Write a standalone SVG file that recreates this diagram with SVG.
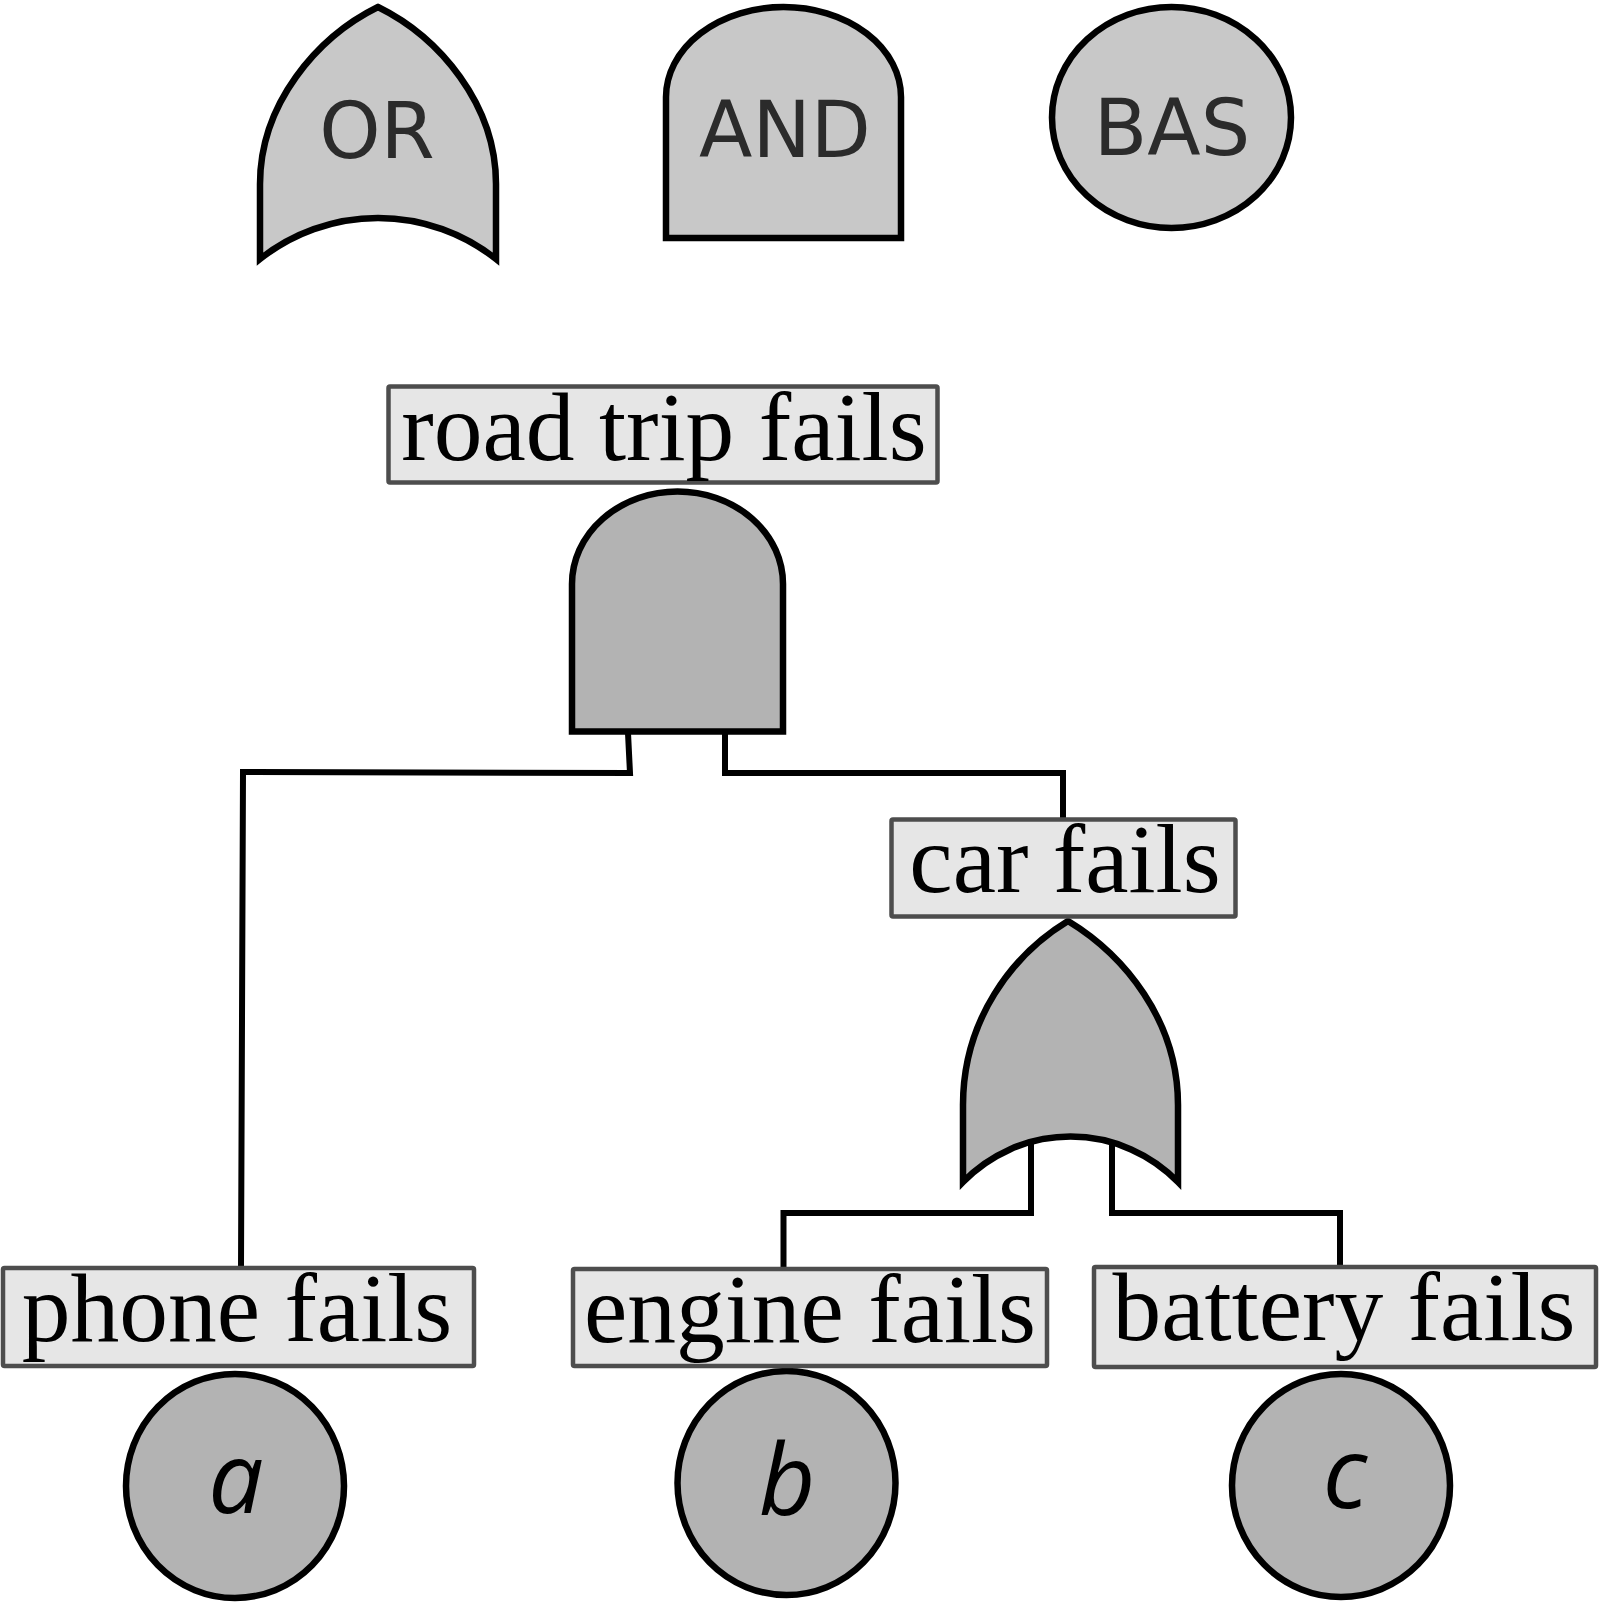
<svg xmlns="http://www.w3.org/2000/svg" width="1599" height="1604" viewBox="0 0 1599 1604">
<style>
.legend{fill:#c8c8c8;stroke:#000;stroke-width:6.5}
.gate{fill:#b3b3b3;stroke:#000;stroke-width:6.5}
.box{fill:#e6e6e6;stroke:#4d4d4d;stroke-width:4.5}
.lt{font-family:"DejaVu Sans",sans-serif;font-size:78px;fill:#2b2b2b;text-anchor:middle}
.lbl{font-family:"Liberation Serif",serif;font-size:97.5px;fill:#000;text-anchor:middle}
.var{font-family:"Open Sans",sans-serif;font-style:italic;font-size:98px;fill:#000;text-anchor:middle}
.conn{fill:none;stroke:#000;stroke-width:6}
</style>
<rect width="1599" height="1604" fill="#fff"/>
<g id="legend-or">
<path class="legend" d="M260,184 C260,104 317,37 378,7 C439,37 496,104 496,184 L496,259 A190,190 0 0 0 260,259 Z"/>
<text class="lt" x="377" y="158">OR</text>
</g>
<g id="legend-and">
<path class="legend" d="M666,238 L666,97 A117.5,90 0 0 1 901,97 L901,238 Z"/>
<text class="lt" x="785" y="157">AND</text>
</g>
<g id="legend-bas">
<ellipse class="legend" cx="1171.5" cy="117.5" rx="119.5" ry="110.5"/>
<text class="lt" x="1172" y="155">BAS</text>
</g>
<g id="connectors">
<polyline class="conn" points="628,733 630,773 243,772 241,1268"/>
<polyline class="conn" points="725,733 725,773 1063,773 1063,818"/>
<polyline class="conn" points="1031,1140 1031,1213 783.5,1213 783.5,1268"/>
<polyline class="conn" points="1112,1140 1112,1213 1340,1213 1340,1266"/>
</g>
<g id="gate-and">
<path class="gate" d="M572,731.5 L572,584 A105.5,92.5 0 0 1 783,584 L783,731.5 Z"/>
</g>
<g id="event-roadtrip">
<rect class="box" x="388.5" y="386.5" width="549" height="96" rx="1.5"/>
<text class="lbl" x="664" y="460">road trip fails</text>
</g>
<g id="gate-or">
<path class="gate" d="M963,1105 C963,1020 1012,955 1068,921 C1124,955 1178,1020 1178,1105 L1178,1182 A150,150 0 0 0 963,1182 Z"/>
</g>
<g id="event-car">
<rect class="box" x="891.5" y="819.5" width="344" height="97" rx="1.5"/>
<text class="lbl" x="1065" y="892">car fails</text>
</g>
<g id="bas-a">
<ellipse class="gate" cx="235" cy="1486" rx="109" ry="112"/>
<text class="var" x="236" y="1513">a</text>
</g>
<g id="bas-b">
<ellipse class="gate" cx="786.5" cy="1483" rx="109" ry="112"/>
<text class="var" x="787" y="1515">b</text>
</g>
<g id="bas-c">
<ellipse class="gate" cx="1341" cy="1485.5" rx="109" ry="111.5"/>
<text class="var" x="1345" y="1508">c</text>
</g>
<g id="event-phone">
<rect class="box" x="3" y="1268" width="471" height="98" rx="1.5"/>
<text class="lbl" x="237" y="1341">phone fails</text>
</g>
<g id="event-engine">
<rect class="box" x="573" y="1269" width="474" height="97" rx="1.5"/>
<text class="lbl" x="810" y="1342">engine fails</text>
</g>
<g id="event-battery">
<rect class="box" x="1094" y="1267" width="502" height="100" rx="1.5"/>
<text class="lbl" x="1344" y="1340">battery fails</text>
</g>
</svg>
